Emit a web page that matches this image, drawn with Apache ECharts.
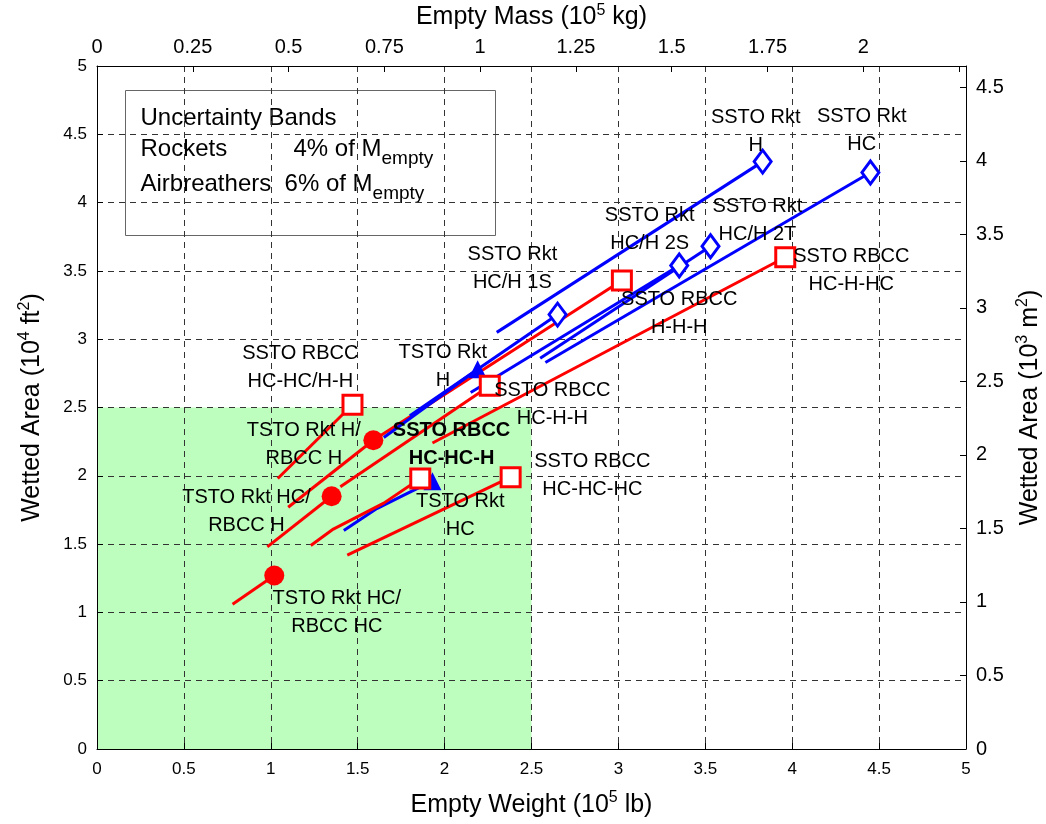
<!DOCTYPE html>
<html>
<head>
<meta charset="utf-8">
<title>Wetted area vs empty weight</title>
<script src="https://cdn.jsdelivr.net/npm/echarts@6/dist/echarts.min.js"></script>
<style>
html, body { margin: 0; padding: 0; background: #fff; }
#chart { width: 1046px; height: 824px; }
</style>
</head>
<body>
<div id="chart"></div>
<script>
// unit conversions for the second axes
var LB_TO_KG = 0.45359;     // 10^5 lb -> 10^5 kg
var FT2_TO_M2 = 0.92903;    // 10^4 ft2 -> 10^3 m2

// [empty weight 10^5 lb, wetted area 10^4 ft2]
var rktH       = [[2.30, 3.05], [3.83, 4.30]];
var rktHC      = [[2.58, 2.83], [4.45, 4.22]];
var rktHCH2T   = [[2.55, 2.86], [3.53, 3.68]];
var rktHCH2S   = [[2.15, 2.61], [3.35, 3.54]];
var rktHCH1S   = [[1.80, 2.44], [2.65, 3.18]];
var tstoRktH   = [[1.65, 2.28], [2.19, 2.78]];
var tstoRktHC  = [[1.42, 1.60], [1.61, 1.76], [1.80, 1.88], [1.93, 1.96]];
var rbccHHH    = [[1.59, 2.26], [3.02, 3.43]];
var rbccHCHHC  = [[1.93, 2.24], [3.96, 3.60]];
var rbccHCHH   = [[1.40, 1.92], [2.26, 2.66]];
var rbccHCHCHH = [[1.04, 1.98], [1.47, 2.52]];
var rbccHCHCH  = [[1.23, 1.49], [1.36, 1.61], [1.65, 1.80], [1.86, 1.98]];
var rbccHCHCHC = [[1.44, 1.42], [2.38, 1.99]];
var tstoHRbccH   = [[1.10, 1.77], [1.59, 2.26]];
var tstoHCRbccH  = [[0.98, 1.48], [1.35, 1.85]];
var tstoHCRbccHC = [[0.78, 1.06], [1.02, 1.27]];

// shaded goal region (upper corner)
var goalBox = [2.5, 2.5];

// text notes [x, y, text]
var notes = [
  [3.79, 4.52, 'SSTO Rkt\nH'],
  [4.40, 4.53, 'SSTO Rkt\nHC'],
  [3.80, 3.87, 'SSTO Rkt\nHC/H 2T'],
  [3.18, 3.80, 'SSTO Rkt\nHC/H 2S'],
  [2.39, 3.52, 'SSTO Rkt\nHC/H 1S'],
  [4.34, 3.50, 'SSTO RBCC\nHC-H-HC'],
  [3.35, 3.19, 'SSTO RBCC\nH-H-H'],
  [1.17, 2.79, 'SSTO RBCC\nHC-HC/H-H'],
  [1.99, 2.80, 'TSTO Rkt\nH'],
  [2.62, 2.52, 'SSTO RBCC\nHC-H-H'],
  [1.19, 2.23, 'TSTO Rkt H/\nRBCC H'],
  [2.04, 2.23, 'SSTO RBCC\nHC-HC-H'],
  [2.85, 2.00, 'SSTO RBCC\nHC-HC-HC'],
  [0.86, 1.74, 'TSTO Rkt HC/\nRBCC H'],
  [2.09, 1.71, 'TSTO Rkt\nHC'],
  [1.38, 1.00, 'TSTO Rkt HC/\nRBCC HC']
];
var boldNote = 'SSTO RBCC\nHC-HC-H';

var FONT = 'Arial, "Liberation Sans", sans-serif';
var BLUE = '#0000ff';
var RED = '#ff0000';

var markers = {
  diamond: { symbol: 'diamond', size: [17, 23], fill: '#fff', border: 3 },
  square:  { symbol: 'rect', size: 19, fill: '#fff', border: 3 },
  circle:  { symbol: 'circle', size: 20, fill: null, border: 0 },
  triangle:{ symbol: 'triangle', size: 18, fill: null, border: 0 }
};

function curve(pts, color, mk) {
  var m = markers[mk];
  var data = pts.map(function (p, i) {
    if (i < pts.length - 1) return { value: p, symbol: 'none' };
    return {
      value: p,
      symbol: m.symbol,
      symbolSize: m.size,
      itemStyle: { color: m.fill || color, borderColor: color, borderWidth: m.border }
    };
  });
  return {
    type: 'line', xAxisIndex: 0, yAxisIndex: 0, z: 5,
    data: data, showSymbol: true, silent: true, animation: false,
    lineStyle: { color: color, width: 3 },
    itemStyle: { color: color }
  };
}

var supStyle = { fontSize: 16, verticalAlign: 'top', fontFamily: FONT, color: '#000' };
var subStyle = { fontSize: 19, verticalAlign: 'bottom', fontFamily: FONT, color: '#000' };

function axisBase(labelSize) {
  return {
    type: 'value', z: 3,
    axisLine: { show: true, onZero: false, lineStyle: { color: '#000', width: 1 } },
    axisTick: { show: true, inside: true, length: 6, lineStyle: { color: '#000' } },
    axisLabel: { color: '#000', fontSize: labelSize, fontFamily: FONT },
    nameLocation: 'middle',
    nameTextStyle: { color: '#000', fontSize: 25, fontFamily: FONT, lineHeight: 30, rich: { sup: supStyle } }
  };
}

var xBottom = Object.assign(axisBase(17), {
  position: 'bottom', min: 0, max: 5, interval: 0.5,
  name: 'Empty Weight (10{sup|5} lb)', nameGap: 41,
  splitLine: { show: true, lineStyle: { color: '#333', type: [6, 5], width: 1 } }
});
xBottom.axisLabel.margin = 12;

var xTop = Object.assign(axisBase(20), {
  position: 'top', min: 0, max: 5 * LB_TO_KG, interval: 0.25,
  name: 'Empty Mass (10{sup|5} kg)', nameGap: 32,
  splitLine: { show: false }
});
xTop.axisLabel.margin = 9;
xTop.axisLabel.formatter = function (v) { return v > 2.1 ? '' : String(+v.toFixed(2)); };

var yLeft = Object.assign(axisBase(17), {
  position: 'left', min: 0, max: 5, interval: 0.5,
  name: 'Wetted Area (10{sup|4} ft{sup|2})', nameGap: 50, nameRotate: 90,
  splitLine: { show: true, lineStyle: { color: '#333', type: [6, 5], width: 1 } }
});
yLeft.axisLabel.margin = 10;

var yRight = Object.assign(axisBase(20), {
  position: 'right', min: 0, max: 5 * FT2_TO_M2, interval: 0.5,
  name: 'Wetted Area (10{sup|3} m{sup|2})', nameGap: 49, nameRotate: 90,
  splitLine: { show: false }
});
yRight.axisLabel.margin = 10;
yRight.axisLabel.showMaxLabel = false;

var series = [
  {
    type: 'scatter', xAxisIndex: 0, yAxisIndex: 0, z: 1, silent: true,
    symbolSize: 0, data: [[0, 0], goalBox],
    markArea: {
      z: 1, silent: true,
      itemStyle: { color: '#bdfdbd' },
      data: [[{ coord: [0, 0] }, { coord: goalBox }]]
    }
  },
  curve(rktH, BLUE, 'diamond'),
  curve(rktHC, BLUE, 'diamond'),
  curve(rktHCH2S, BLUE, 'diamond'),
  curve(rktHCH2T, BLUE, 'diamond'),
  curve(rbccHHH, RED, 'square'),
  curve(rktHCH1S, BLUE, 'diamond'),
  curve(tstoHRbccH, RED, 'circle'),
  curve(tstoRktH, BLUE, 'triangle'),
  curve(rbccHCHHC, RED, 'square'),
  curve(rbccHCHH, RED, 'square'),
  curve(rbccHCHCHH, RED, 'square'),
  curve(tstoRktHC, BLUE, 'triangle'),
  curve(rbccHCHCH, RED, 'square'),
  curve(rbccHCHCHC, RED, 'square'),
  curve(tstoHCRbccH, RED, 'circle'),
  curve(tstoHCRbccHC, RED, 'circle'),
  {
    type: 'scatter', xAxisIndex: 0, yAxisIndex: 0, z: 6, silent: true,
    symbolSize: 0,
    itemStyle: { opacity: 1 },
    data: notes.map(function (n) {
      return {
        value: [n[0], n[1]], name: n[2],
        label: n[2] === boldNote ? { fontWeight: 'bold' } : {}
      };
    }),
    label: {
      show: true, position: 'inside', formatter: '{b}', opacity: 1,
      color: '#000', fontSize: 20, lineHeight: 28, fontFamily: FONT, align: 'center'
    }
  }
];

var chart = echarts.init(document.getElementById('chart'), null, { renderer: 'canvas' });
chart.setOption({
  animation: false,
  backgroundColor: '#fff',
  textStyle: { fontFamily: FONT },
  grid: { left: 97, right: 80, top: 66, bottom: 75, containLabel: false, outerBoundsMode: 'none' },
  xAxis: [xBottom, xTop],
  yAxis: [yLeft, yRight],
  series: series,
  graphic: [
    {
      type: 'group', left: 125, top: 90, z: 20,
      children: [
        { type: 'rect', shape: { x: 0, y: 0, width: 370, height: 145 },
          style: { fill: '#fff', stroke: '#666', lineWidth: 1 } },
        { type: 'text', x: 15, y: 16,
          style: { text: 'Uncertainty Bands', fill: '#000', font: '24px ' + FONT } },
        { type: 'text', x: 15, y: 40,
          style: { text: 'Rockets', fill: '#000', fontSize: 24, fontFamily: FONT, lineHeight: 38 } },
        { type: 'text', x: 168, y: 40,
          style: { text: '4% of M{sub|empty}', fill: '#000', fontSize: 24, fontFamily: FONT,
                   lineHeight: 38, rich: { sub: subStyle } } },
        { type: 'text', x: 15, y: 75,
          style: { text: 'Airbreathers  6% of M{sub|empty}', fill: '#000', fontSize: 24, fontFamily: FONT,
                   lineHeight: 38, rich: { sub: subStyle } } }
      ]
    }
  ]
});
</script>
</body>
</html>
